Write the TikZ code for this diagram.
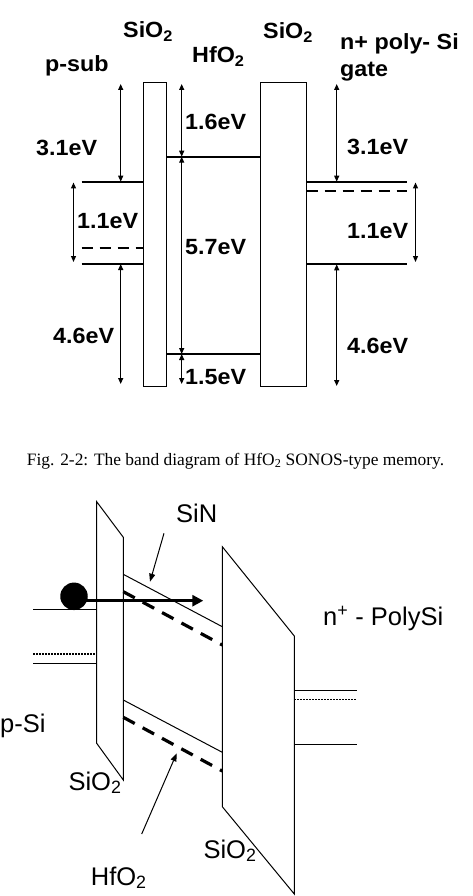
\documentclass[tikz,border=0pt]{standalone}
\usepackage{fontspec}
\setmainfont{Liberation Sans}
\newfontfamily\capfont{Liberation Serif}
\newfontfamily\bandfont[FakeStretch=1.06]{Liberation Sans}
\usetikzlibrary{arrows.meta,positioning}

\tikzset{
  % upper picture: flat bands
  bandline/.style={line width=2.2pt},
  fermiline/.style={line width=2.2pt,dash pattern=on 11pt off 7pt},
  oxidebox/.style={draw,line width=1.5pt},
  gaparrow/.style={{Triangle[length=6pt,width=5pt]}-{Triangle[length=6pt,width=5pt]},line width=1.2pt},
  toplabel/.style={font=\bandfont\bfseries\fontsize{22}{24}\selectfont,inner sep=0pt,anchor=base west},
  % lower picture: bands under program bias
  sketch/.style={line width=1pt},
  trapline/.style={line width=3.2pt,dash pattern=on 13pt off 9pt},
  fermidots/.style={line width=1.2pt,dash pattern=on 1.6pt off 1.4pt},
  pointer/.style={-{Triangle[length=8pt,width=6pt]},line width=1pt},
  lowlabel/.style={font=\fontsize{25.5}{28}\selectfont,inner sep=0pt,anchor=base west},
}

\begin{document}
\begin{tikzpicture}[x=1pt,y=-1pt]
\useasboundingbox (0,0) rectangle (472,896);

%% flat band diagram
\draw[oxidebox] (143.3,82.7) rectangle (166.7,386.7);
\draw[oxidebox] (260.7,82.7) rectangle (306.7,386.7);

% p-sub
\draw[bandline] (81.7,181.7) -- (143.3,181.7);
\draw[fermiline] (81.7,248.3) -- (143.3,248.3);
\draw[bandline] (81.7,264) -- (143.3,264);
% HfO2
\draw[bandline] (166.7,156.7) -- (260.7,156.7);
\draw[bandline] (166.7,354) -- (260.7,354);
% gate
\draw[bandline] (306.7,181.7) -- (406.7,181.7);
\draw[fermiline] (306.7,190.7) -- (406.7,190.7);
\draw[bandline] (306.7,264.3) -- (406.7,264.3);

\coordinate (ltop) at (120.7,84);
\coordinate (lcb) at (120.7,181.7);
\coordinate (lvb) at (120.7,264);
\coordinate (lbot) at (120.7,384);
\coordinate (lgtop) at (73.5,182.5);
\coordinate (lgbot) at (73.5,262);
\coordinate (htop) at (181.7,84);
\coordinate (hcb) at (181.7,156.7);
\coordinate (hvb) at (181.7,354);
\coordinate (hbot) at (181.7,384);
\coordinate (rtop) at (336.7,84);
\coordinate (rcb) at (336.7,181.7);
\coordinate (rvb) at (336.7,264.3);
\coordinate (rbot) at (336.7,386);
\coordinate (rgtop) at (415.5,182.5);
\coordinate (rgbot) at (415.5,262);

\draw[gaparrow] (ltop) -- (lcb);
\draw[gaparrow] (lvb) -- (lbot);
\draw[gaparrow] (lgtop) -- (lgbot);
\draw[gaparrow] (htop) -- (hcb);
\draw[gaparrow] (hcb) -- (hvb);
\draw[gaparrow] (hvb) -- (hbot);
\draw[gaparrow] (rtop) -- (rcb);
\draw[gaparrow] (rvb) -- (rbot);
\draw[gaparrow] (rgtop) -- (rgbot);

\node[toplabel] (ox1) at (123,38) {SiO\textsubscript{2}};
\node[toplabel] (hf) at (192,63) {HfO\textsubscript{2}};
\node[toplabel] (ox2) at (263,39) {SiO\textsubscript{2}};
\node[toplabel] (psub) at (45,72) {p-sub};
\node[toplabel] (gate1) at (340,50) {n+ poly- Si};
\node[toplabel] (gate2) at (340,77) {gate};
\node[toplabel] (e1) at (36,156) {3.1eV};
\node[toplabel] (e2) at (77,228) {1.1eV};
\node[toplabel] (e3) at (53,343) {4.6eV};
\node[toplabel] (e4) at (185,130) {1.6eV};
\node[toplabel] (e5) at (185,254) {5.7eV};
\node[toplabel] (e6) at (185,384) {1.5eV};
\node[toplabel] (e7) at (347,155) {3.1eV};
\node[toplabel] (e8) at (347,238) {1.1eV};
\node[toplabel] (e9) at (347,353) {4.6eV};

\node[font=\capfont\fontsize{17.4}{20}\selectfont,inner sep=0pt,anchor=base] (caption) at (235.5,465)
  {Fig. 2-2: The band diagram of HfO\textsubscript{2} SONOS-type memory.};

%% band diagram under program bias
\draw[sketch] (96.7,501.7) -- (123.3,537.3) -- (123.3,780) -- (96.7,743.3) -- cycle;
\draw[sketch] (222.3,546.7) -- (294.3,636) -- (294.3,894) -- (222.3,806.7) -- cycle;

\draw[sketch] (123.3,574.3) -- (222.3,626.7);
\draw[trapline] (123.3,591.7) -- (222.3,645);
\draw[sketch] (123.3,700) -- (222.3,752.3);
\draw[trapline] (123.3,717.3) -- (222.3,771);

\draw[sketch] (33.3,609.3) -- (96.7,609.3);
\draw[fermidots] (33.3,654) -- (96.7,654);
\draw[sketch] (33.3,663.3) -- (96.7,663.3);
\draw[sketch] (294.3,690.7) -- (357,690.7);
\draw[fermidots] (294.3,699.3) -- (357,699.3);
\draw[sketch] (294.3,744.3) -- (357,744.3);

% tunnelling electron
\node[circle,fill,inner sep=0pt,minimum size=27.5pt] (el) at (74,596.3) {};
\coordinate (elend) at (203.3,600.7);
\draw[line width=3pt,-{Triangle[length=11pt,width=11pt]}] (el.center |- elend) -- (elend);

\node[lowlabel] (sin) at (176,522) {SiN};
\node[lowlabel] (poly) at (323,625.5) {n\textsuperscript{+} - PolySi};
\node[lowlabel] (psi) at (0,732) {p-Si};
\node[lowlabel] (tox) at (68.3,790) {SiO\textsubscript{2}};
\node[lowlabel] (box) at (203.3,858) {SiO\textsubscript{2}};
\node[lowlabel] (hfo) at (90.7,885) {HfO\textsubscript{2}};

\coordinate (sinfoot) at (164,533.3);
\coordinate (sintip) at (150,581.7);
\coordinate (hffoot) at (141.7,834);
\coordinate (hftip) at (176.7,753.3);
\draw[pointer] (sinfoot) -- (sintip);
\draw[pointer] (hffoot) -- (hftip);
\end{tikzpicture}
\end{document}
